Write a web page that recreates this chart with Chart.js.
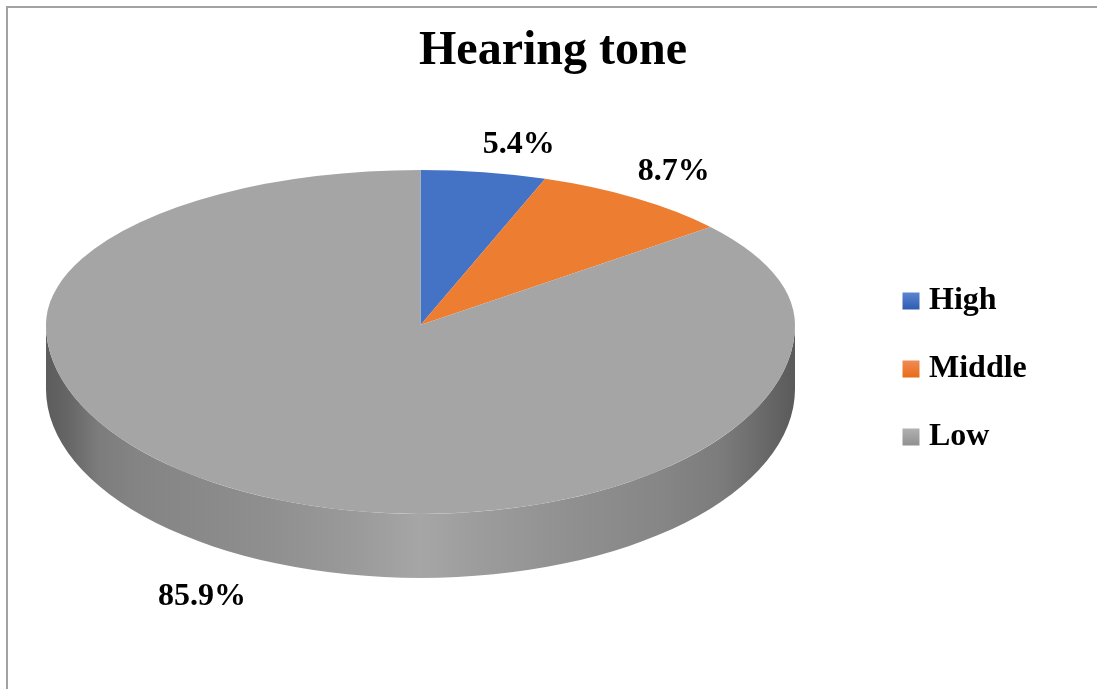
<!DOCTYPE html>
<html>
<head>
<meta charset="utf-8">
<title>Hearing tone</title>
<script src="https://cdn.jsdelivr.net/npm/chart.js@4/dist/chart.umd.min.js"></script>
<style>
  html, body { margin: 0; padding: 0; background: #fff; overflow: hidden; }
  canvas { display: block; }
</style>
</head>
<body>
<canvas id="myChart" width="1097" height="689"></canvas>
<script>
// Datos del grafico
var categories = ['High', 'Middle', 'Low'];
var percentages = [5.4, 8.7, 85.9];
var sliceColors = ['#4472C4', '#ED7D31', '#A5A5A5'];

// Desplazamiento de cada etiqueta respecto al borde de su sector
var labelOffsets = [[35, -27], [38, -26], [-58, 101]];

// Degradado de los cuadros de la leyenda: arriba, abajo
var legendShades = [['#5b84d0', '#2e5bb0'], ['#f08a55', '#e86a14'], ['#b0b0b0', '#8f8f8f']];

// Geometria del disco en perspectiva: la mitad delantera es mas alta que la trasera
var center = { x: 420.5, y: 325 };
var radius = 374.5;
var backHeight = 155;
var frontHeight = 189;
var depth = 64;
var serif = '"Liberation Serif", serif';

// Sombreado de la pared lateral, de izquierda a derecha
var wallStops = [
    [0, '#5c5c5c'], [0.03, '#666666'], [0.07, '#7c7c7c'], [0.12, '#848484'],
    [0.3, '#8f8f8f'], [0.42, '#9b9b9b'], [0.5, '#a6a6a6'], [0.58, '#9c9c9c'],
    [0.7, '#909090'], [0.82, '#868686'], [0.9, '#7c7c7c'], [0.95, '#6c6c6c'], [1, '#5a5a5a']
];

function halfClip(ctx, front) {
    ctx.beginPath();
    if (front) {
        ctx.rect(0, center.y, 1097, 689 - center.y);
    } else {
        ctx.rect(0, 0, 1097, center.y);
    }
    ctx.clip();
}

function squash(ctx, height) {
    ctx.translate(center.x, center.y);
    ctx.scale(1, height / radius);
    ctx.translate(-center.x, -center.y);
}

var pie3d = {
    id: 'pie3d',
    // Coloca titulo, leyenda y area del disco
    afterLayout: function (chart) {
        chart.titleBlock.left = 7;
        chart.titleBlock.right = 1099;
        chart.legend.left = 873;
        chart.legend.top = 249;
        var area = chart.chartArea;
        area.left = center.x - radius;
        area.right = center.x + radius;
        area.top = center.y - backHeight;
        area.bottom = center.y + backHeight;
    },
    // Marco gris superior e izquierdo
    beforeDraw: function (chart) {
        var ctx = chart.ctx;
        ctx.save();
        ctx.fillStyle = '#ffffff';
        ctx.fillRect(0, 0, 1097, 689);
        ctx.fillStyle = '#a3a3a3';
        ctx.fillRect(6, 6, 1091, 2);
        ctx.fillRect(6, 6, 2, 683);
        ctx.restore();
    },
    beforeDatasetsDraw: function (chart) {
        var ctx = chart.ctx;
        var wall = ctx.createLinearGradient(center.x - radius, 0, center.x + radius, 0);
        wallStops.forEach(function (s) { wall.addColorStop(s[0], s[1]); });

        ctx.save();
        ctx.fillStyle = wall;
        ctx.beginPath();
        ctx.moveTo(center.x + radius, center.y);
        ctx.lineTo(center.x + radius, center.y + depth);
        ctx.ellipse(center.x, center.y + depth, radius, frontHeight, 0, 0, Math.PI, false);
        ctx.lineTo(center.x - radius, center.y);
        ctx.ellipse(center.x, center.y, radius, frontHeight, 0, Math.PI, 0, true);
        ctx.closePath();
        ctx.fill();
        ctx.restore();

        // Mitad trasera
        ctx.save();
        halfClip(ctx, false);
        squash(ctx, backHeight);
    },
    afterDatasetsDraw: function (chart) {
        var ctx = chart.ctx;
        ctx.restore();

        // Mitad delantera
        ctx.save();
        halfClip(ctx, true);
        squash(ctx, frontHeight);
        chart.getDatasetMeta(0).controller.draw();
        ctx.restore();

        // Porcentajes
        ctx.save();
        ctx.font = 'bold 32px ' + serif;
        ctx.fillStyle = '#000000';
        ctx.textAlign = 'center';
        ctx.textBaseline = 'middle';
        chart.getDatasetMeta(0).data.forEach(function (arc, i) {
            var mid = (arc.startAngle + arc.endAngle) / 2;
            var sin = Math.sin(mid);
            var x = arc.x + arc.outerRadius * Math.cos(mid);
            var y = arc.y + sin * (sin > 0 ? frontHeight : backHeight);
            ctx.fillText(percentages[i].toFixed(1) + '%', x + labelOffsets[i][0], y + labelOffsets[i][1]);
        });
        ctx.restore();
    }
};

var ctx = document.getElementById('myChart').getContext('2d');
var myChart = new Chart(ctx, {
    type: 'pie',
    data: {
        labels: categories,
        datasets: [{
            data: percentages,
            backgroundColor: sliceColors,
            borderWidth: 0,
            radius: radius,
            clip: false
        }]
    },
    options: {
        responsive: false,
        animation: false,
        layout: { padding: { left: 0, right: 0, top: 0, bottom: 0 } },
        plugins: {
            tooltip: { enabled: false },
            title: {
                display: true,
                text: 'Hearing tone',
                color: '#000000',
                font: { family: serif, size: 48, weight: 'bold' },
                padding: { top: 23, bottom: 6 }
            },
            legend: {
                position: 'right',
                align: 'start',
                labels: {
                    color: '#000000',
                    font: { family: serif, size: 32, weight: 'bold' },
                    usePointStyle: true,
                    pointStyle: 'rect',
                    boxWidth: 4,
                    boxHeight: 17,
                    padding: 36,
                    generateLabels: function (chart) {
                        var items = Chart.overrides.pie.plugins.legend.labels.generateLabels(chart);
                        return items.map(function (item, i) {
                            var top = 293 + i * 68;
                            var shade = chart.ctx.createLinearGradient(0, top, 0, top + 17);
                            shade.addColorStop(0, legendShades[i][0]);
                            shade.addColorStop(1, legendShades[i][1]);
                            item.fillStyle = shade;
                            return item;
                        });
                    }
                }
            }
        }
    },
    plugins: [pie3d]
});
</script>
</body>
</html>
